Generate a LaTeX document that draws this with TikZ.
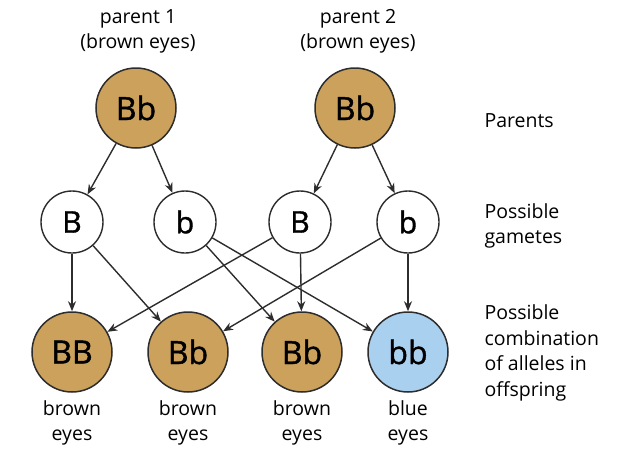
\documentclass[tikz,border=0pt]{standalone}
\usepackage{fontspec}
\setmainfont{Open Sans}
\newfontfamily\letterfont[FakeBold=1.2]{Open Sans}
\usetikzlibrary{arrows.meta}
\definecolor{brownfill}{RGB}{203,161,92}
\definecolor{bluefill}{RGB}{170,208,240}
\definecolor{linegray}{RGB}{45,45,45}
\begin{document}
\begin{tikzpicture}[x=1pt,y=-1pt,
  parentc/.style={circle,draw=linegray,line width=1.5pt,fill=brownfill,minimum size=80pt,inner sep=0pt,font=\letterfont\fontsize{32}{34}\selectfont},
  offc/.style={parentc},
  bluec/.style={parentc,fill=bluefill},
  gamete/.style={circle,draw=linegray,line width=1.4pt,fill=white,minimum size=62pt,inner sep=0pt,font=\letterfont\fontsize{30}{32}\selectfont},
  lbl/.style={font=\fontsize{19.5}{25}\selectfont,align=center},
  side/.style={font=\fontsize{19.5}{25.5}\selectfont,align=left,anchor=west},
  conn/.style={draw=linegray,line width=1.4pt,-{Stealth[length=10pt,width=8pt]}}]
\useasboundingbox (0,0) rectangle (638,450);
% parents
\node[parentc] (p1) at (136,108) {Bb};
\node[parentc] (p2) at (355,108) {Bb};
\node[lbl] (p1t) at (138,31) {parent 1\\(brown eyes)};
\node[lbl] (p2t) at (358,31) {parent 2\\(brown eyes)};
% gametes
\node[gamete] (g1) at (72,222) {B};
\node[gamete] (g2) at (185,222) {b};
\node[gamete] (g3) at (300,222) {B};
\node[gamete] (g4) at (408,222) {b};
% offspring
\node[offc] (o1) at (72,352) {BB};
\node[offc] (o2) at (188,352) {Bb};
\node[offc] (o3) at (302,352) {Bb};
\node[bluec] (o4) at (408,352) {bb};
\node[lbl] (l1) at (72,423) {brown\\eyes};
\node[lbl] (l2) at (188,423) {brown\\eyes};
\node[lbl] (l3) at (302,423) {brown\\eyes};
\node[lbl] (l4) at (408,423) {blue\\eyes};
% side labels
\node[side] (s1) at (481,121) {Parents};
\node[side] (s2) at (481,226) {Possible\\gametes};
\node[side] (s3) at (481,353) {Possible\\combination\\of alleles in\\offspring};
% connectors
\draw[conn] (p1) -- (g1);
\draw[conn] (p1) -- (g2);
\draw[conn] (p2) -- (g3);
\draw[conn] (p2) -- (g4);
\draw[conn] (g1) -- (o1);
\draw[conn] (g1) -- (o2);
\draw[conn] (g2) -- (o3);
\draw[conn] (g2) -- (o4);
\draw[conn] (g3) -- (o1);
\draw[conn] (g3) -- (o3);
\draw[conn] (g4) -- (o2);
\draw[conn] (g4) -- (o4);
\end{tikzpicture}
\end{document}
